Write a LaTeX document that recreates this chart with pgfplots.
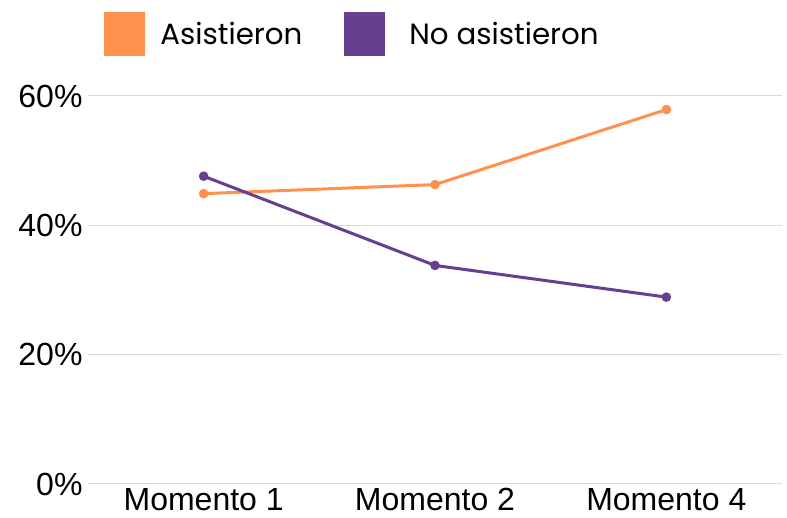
\documentclass[border=0pt]{standalone}
\usepackage{pgfplots}
\pgfplotsset{compat=1.18}
\usepackage{fontspec}
\setmainfont{Liberation Sans}
\newfontfamily\legfont{Poppins}
\definecolor{myorange}{HTML}{FF914D}
\definecolor{mypurple}{HTML}{673F8F}
\definecolor{gridgray}{HTML}{D9D9D9}
\begin{document}
\begin{tikzpicture}
\useasboundingbox (-88pt,-34pt) rectangle (699pt,484pt);
\begin{axis}[
  at={(0pt,0pt)}, anchor=south west,
  scale only axis, width=694pt, height=388pt,
  xmin=-0.5, xmax=2.5, ymin=0, ymax=60,
  xtick={0,1,2}, xticklabels={Momento 1,Momento 2,Momento 4},
  ytick={0,20,40,60}, yticklabels={0\%,20\%,40\%,60\%},
  axis line style={draw=none},
  major tick length=0pt,
  ymajorgrids, grid style={gridgray, line width=1pt},
  tick label style={font=\fontsize{32}{37}\selectfont, text=black},
  yticklabel style={xshift=-2pt},
  xticklabel style={yshift=-1pt},
  legend style={draw=none, fill=none, at={(0.019,1.222)}, anchor=north west,
    legend columns=2, font=\legfont\fontsize{29.3}{34}\selectfont,
    /tikz/every odd column/.append style={column sep=13pt},
    /tikz/every even column/.append style={column sep=40pt}},
  legend cell align=left,
  clip=false,
]
\addplot[myorange, line width=3pt, mark=*, mark size=3.2pt,
  legend image code/.code={\fill[myorange] (0pt,-20.5pt) rectangle (38pt,20.5pt);}]
  coordinates {(0,44.9) (1,46.3) (2,57.9)};
\addlegendentry{Asistieron}
\addplot[mypurple, line width=3pt, mark=*, mark size=3.2pt,
  legend image code/.code={\fill[mypurple] (0pt,-20.5pt) rectangle (38pt,20.5pt);}]
  coordinates {(0,47.6) (1,33.8) (2,28.9)};
\addlegendentry{\hspace{9pt}No asistieron}
\end{axis}
\end{tikzpicture}
\end{document}
